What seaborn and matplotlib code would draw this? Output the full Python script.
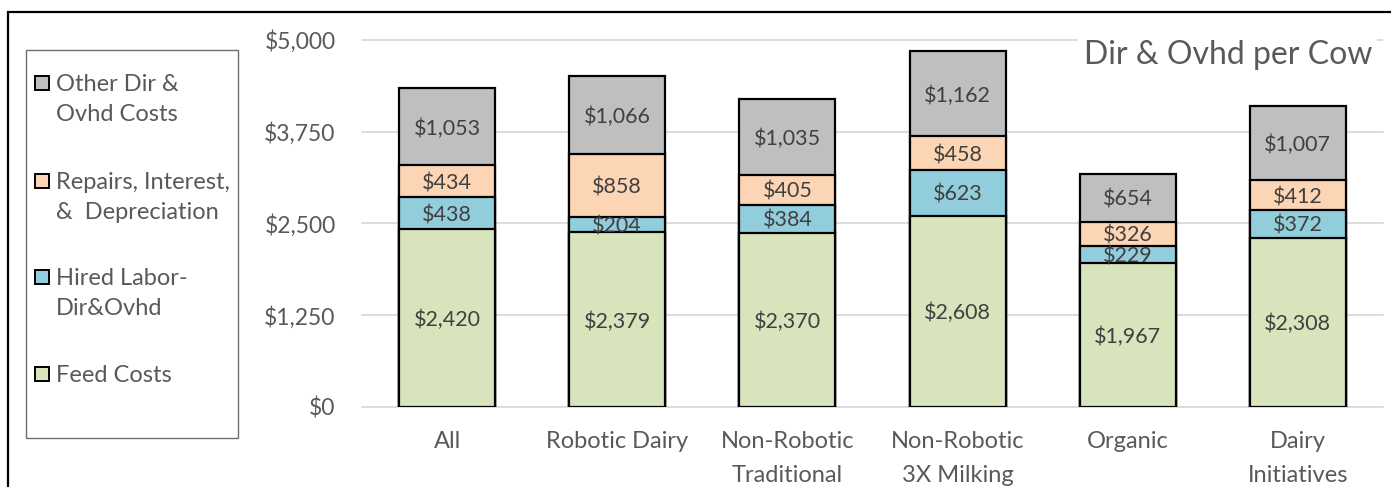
import numpy as np
import pandas as pd
import matplotlib
matplotlib.use("Agg")
import matplotlib.pyplot as plt
import seaborn as sns
from matplotlib.patches import Rectangle

# ---- data ----
categories = ["All", "Robotic Dairy", "Non-Robotic\nTraditional",
              "Non-Robotic\n3X Milking", "Organic", "Dairy\nInitiatives"]
feed_costs = [2420, 2379, 2370, 2608, 1967, 2308]
hired_labor = [438, 204, 384, 623, 229, 372]
repairs_int_dep = [434, 858, 405, 458, 326, 412]
other_costs = [1053, 1066, 1035, 1162, 654, 1007]
series_names = ["Feed Costs", "Hired Labor-\nDir&Ovhd",
                "Repairs, Interest,\n&  Depreciation", "Other Dir &\nOvhd Costs"]
ytick_values = [0, 1250, 2500, 3750, 5000]
ytick_labels = ["$0", "$1,250", "$2,500", "$3,750", "$5,000"]
chart_title = "Dir & Ovhd per Cow"

colors = ["#D8E4BC", "#92CDDC", "#FCD5B4", "#BFBFBF"]
W, H = 1391, 487

sns.set_theme(style="white")
plt.rcParams['font.family'] = ['Lato', 'DejaVu Sans']

fig = plt.figure(figsize=(W / 100, H / 100), dpi=100)
ax = fig.add_axes([362 / W, 80 / H, (1383 - 362) / W, 367 / H])

layers = [feed_costs, hired_labor, repairs_int_dep, other_costs]
cum = np.cumsum(np.array(layers), axis=0)

for i in range(len(layers) - 1, -1, -1):
    df = pd.DataFrame({"cat": categories, "val": cum[i]})
    sns.barplot(data=df, x="cat", y="val", color=colors[i], saturation=1,
                width=0.565, edgecolor="black", linewidth=1.6,
                errorbar=None, ax=ax, zorder=2)

for i, layer in enumerate(layers):
    for j, v in enumerate(layer):
        ax.text(j, cum[i][j] - v / 2, f"${v:,}", ha="center",
                va="center_baseline", fontsize=15.5, color="#404040", zorder=5)

ax.set_xlim(-0.5, len(categories) - 0.5)
ax.set_ylim(0, 5000)
ax.set_yticks(ytick_values)
ax.set_yticklabels(ytick_labels)
ax.set_xlabel("")
ax.set_ylabel("")
ax.yaxis.grid(True, color="#D9D9D9", linewidth=1.3, zorder=0)
for gl in ax.get_ygridlines():
    gl.set_clip_on(False)
ax.set_axisbelow(True)
for s in ax.spines.values():
    s.set_visible(False)
ax.tick_params(axis="y", length=0, pad=19, labelsize=16.5, labelcolor="#595959")
ax.tick_params(axis="x", length=0, pad=17, labelsize=17, labelcolor="#595959")
for t in ax.get_xticklabels():
    t.set_linespacing(1.78)
    t.set_va("top")

# title
fig.text(1372 / W, 1 - 55 / H, chart_title, ha="right", va="center",
         fontsize=23, color="#595959",
         bbox=dict(facecolor="white", edgecolor="none", pad=4))

# outer border
fig.add_artist(Rectangle((8 / W, -0.1), 1.2, (H - 12) / H + 0.1,
                         transform=fig.transFigure, fill=False,
                         edgecolor="black", linewidth=1.6))

# legend box
fig.add_artist(Rectangle((26 / W, (H - 438) / H), 212 / W, 388 / H,
                         transform=fig.transFigure, fill=False,
                         edgecolor="#6E6E6E", linewidth=1.0))
entry_y = [83, 181, 277, 374]
order = [3, 2, 1, 0]
for k, idx in enumerate(order):
    yc = entry_y[k]
    fig.add_artist(Rectangle((35 / W, (H - yc - 7) / H), 14 / W, 14 / H,
                             transform=fig.transFigure, facecolor=colors[idx],
                             edgecolor="black", linewidth=1.4))
    fig.text(56 / W, (H - yc + 9) / H, series_names[idx], ha="left",
             va="top", fontsize=17, color="#595959", linespacing=1.55,
             transform=fig.transFigure)

fig.savefig("out.png", dpi=100)
